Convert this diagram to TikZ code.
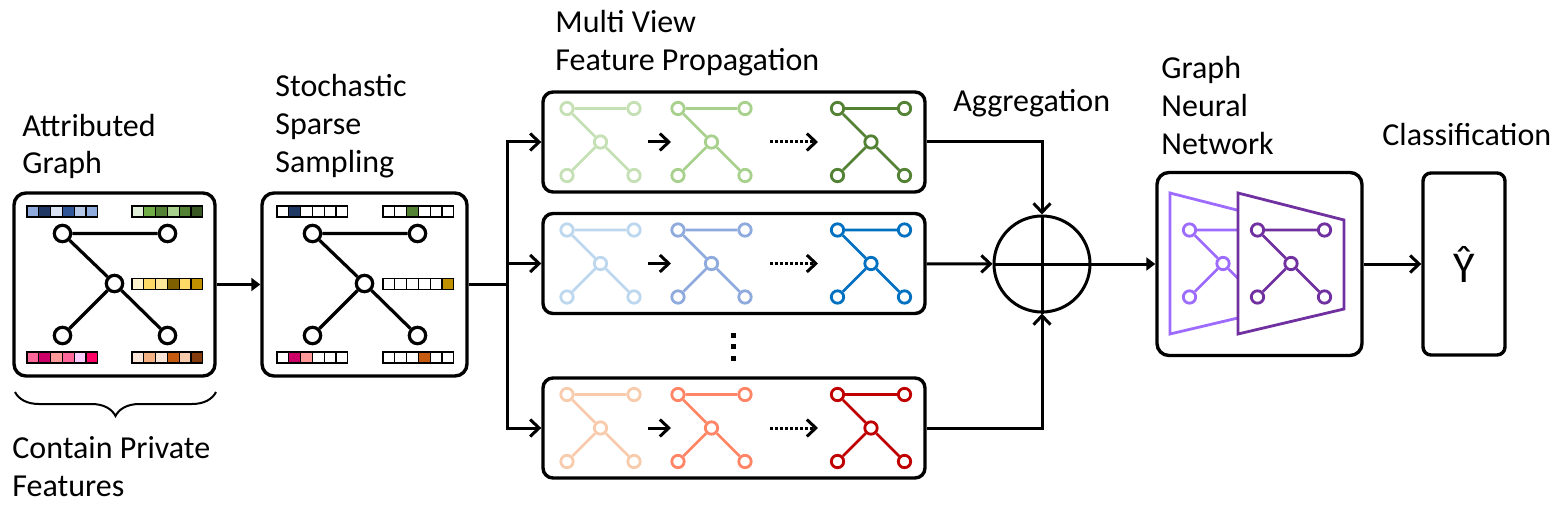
\documentclass[tikz,border=0pt]{standalone}
\usepackage{fontspec}
\setmainfont{Carlito}
\usetikzlibrary{arrows.meta}
\usetikzlibrary{decorations.pathreplacing}
%%%%%%% feature colours
\definecolor{blueA}{HTML}{8FAADC}
\definecolor{blueB}{HTML}{203864}
\definecolor{blueC}{HTML}{DAE3F3}
\definecolor{blueD}{HTML}{2F5597}
\definecolor{blueE}{HTML}{B4C7E7}
\definecolor{greenA}{HTML}{E2F0D9}
\definecolor{greenB}{HTML}{70AD47}
\definecolor{greenC}{HTML}{548235}
\definecolor{greenD}{HTML}{A9D18E}
\definecolor{greenE}{HTML}{385723}
\definecolor{greenF}{HTML}{C5E0B4}
\definecolor{goldA}{HTML}{FFF2CC}
\definecolor{goldB}{HTML}{FFD966}
\definecolor{goldC}{HTML}{FFE699}
\definecolor{goldD}{HTML}{7F6000}
\definecolor{goldE}{HTML}{BF9000}
\definecolor{pinkA}{HTML}{FF6699}
\definecolor{pinkB}{HTML}{CC0066}
\definecolor{pinkC}{HTML}{FF9999}
\definecolor{pinkD}{HTML}{FFCCFF}
\definecolor{pinkE}{HTML}{FF0066}
\definecolor{peachA}{HTML}{FBE5D6}
\definecolor{peachB}{HTML}{F4B183}
\definecolor{peachC}{HTML}{C55A11}
\definecolor{peachD}{HTML}{F8CBAD}
\definecolor{peachE}{HTML}{843C0C}
%%%%%%% view colours
\definecolor{skyA}{HTML}{BDD7EE}
\definecolor{skyB}{HTML}{8FAADC}
\definecolor{skyC}{HTML}{0070C0}
\definecolor{redA}{HTML}{F8CBAD}
\definecolor{redB}{HTML}{FF8566}
\definecolor{redC}{HTML}{C00000}
\definecolor{lilac}{HTML}{9E6BFF}
\definecolor{plum}{HTML}{7030A0}
\newcommand{\FeatBar}[3]{% left, top, colours of the six cells
\foreach \c [count=\i from 0] in {#3} {
  \draw[cell, fill=\c] ({#1+\i*11.8},#2) rectangle ++(11.8,11);
}
}
\newcommand{\BigGraph}[3]{% name, centre x, centre y
\node[bignode] (#1tl) at (#2-52,#3-51) {};
\node[bignode] (#1tr) at (#2+53,#3-51) {};
\node[bignode] (#1c) at (#2,#3-1) {};
\node[bignode] (#1bl) at (#2-52,#3+51) {};
\node[bignode] (#1br) at (#2+53,#3+51) {};
\draw[bigedge] (#1tl) -- (#1tr) (#1tl) -- (#1c) (#1c) -- (#1bl) (#1c) -- (#1br);
}
\newcommand{\SmallGraph}[4]{% name, centre x, centre y, colour
\node[smallnode, draw=#4] (#1tl) at (#2-33.5,#3-33.5) {};
\node[smallnode, draw=#4] (#1tr) at (#2+33.5,#3-33.5) {};
\node[smallnode, draw=#4] (#1c) at (#2,#3) {};
\node[smallnode, draw=#4] (#1bl) at (#2-33.5,#3+33.5) {};
\node[smallnode, draw=#4] (#1br) at (#2+33.5,#3+33.5) {};
\draw[smalledge, #4] (#1tl) -- (#1tr) (#1tl) -- (#1c) (#1c) -- (#1bl) (#1c) -- (#1br);
}
\newcommand{\ViewBox}[5]{% name, centre y, light, middle, dark colour
\node[panel, rounded corners=5pt, minimum width=191pt, minimum height=50pt] (#1) at (734,#2) {};
\SmallGraph{#1a}{600.5}{#2}{#3}
\SmallGraph{#1b}{711.5}{#2}{#4}
\SmallGraph{#1c}{871}{#2}{#5}
\coordinate (#1s1) at (648,#2);
\coordinate (#1s2) at (671,#2);
\coordinate (#1d1) at (770,#2);
\coordinate (#1d2) at (818,#2);
\draw[arr] (#1s1) -- (#1s2);
\draw[arr, dotarr] (#1d1) -- (#1d2);
}

\begin{document}
\begin{tikzpicture}[x=0.5pt, y=-0.5pt,
font=\fontsize{16}{19}\selectfont,
panel/.style={draw, line width=1.7pt, rounded corners=6pt, inner sep=0},
cell/.style={draw, line width=0.6pt},
bignode/.style={circle, draw, fill=white, line width=1.6pt, minimum size=8.2pt, inner sep=0},
bigedge/.style={line width=1.6pt},
smallnode/.style={circle, fill=white, line width=1.4pt, minimum size=6.2pt, inner sep=0},
smalledge/.style={line width=1.4pt},
wire/.style={line width=1.5pt},
arr/.style={-{Straight Barb[length=4.5pt,width=8.5pt]}, line width=1.5pt},
tri/.style={-{Triangle[length=4.5pt,width=6.5pt]}, line width=1.5pt},
dotarr/.style={dash pattern=on 1.5pt off 1pt},
trap/.style={line width=1.4pt, line join=miter},
heading/.style={anchor=base west, align=left, inner sep=0}]
\useasboundingbox (0,0) rectangle (1558,508);
%%%%%%%%%%%%%%%%%%%%%%% TITLES (base = last line) %%%%%%%%%%%%%%%%%%%%%%%
\node[heading] (tattr) at (22,174) {Attributed\\Graph};
\node[heading] (tsamp) at (275,172) {Stochastic\\Sparse\\Sampling};
\node[heading] (tmv) at (555,71) {Multi View\\Feature Propagation};
\node[heading] (tagg) at (953,112) {Aggregation};
\node[heading] (tgnn) at (1161,155) {Graph\\Neural\\Network};
\node[heading] (tcls) at (1382,146) {Classification};
\node[heading] (tpriv) at (12,496) {Contain Private\\Features};
%%%%%%%%%%%%%%%%%%%%%%% ATTRIBUTED GRAPH %%%%%%%%%%%%%%%%%%%%%%%
\node[panel, minimum width=100.5pt, minimum height=91.5pt] (attr) at (114.5,284.5) {};
\FeatBar{27}{206}{blueA,blueB,blueC,blueD,blueE,blueA}
\FeatBar{132}{206}{greenA,greenB,greenC,greenD,greenC,greenE}
\FeatBar{132}{278.5}{goldA,goldB,goldC,goldD,goldB,goldE}
\FeatBar{27}{352}{pinkA,pinkB,pinkC,pinkA,pinkD,pinkE}
\FeatBar{132}{352}{peachA,peachB,peachA,peachC,peachD,peachE}
\BigGraph{ag}{114.5}{284.5}
\draw[decorate, decoration={brace, mirror, amplitude=12pt}, line width=1pt] (15,392) -- (216,392);
%%%%%%%%%%%%%%%%%%%%%%% SPARSE SAMPLING %%%%%%%%%%%%%%%%%%%%%%%
\node[panel, minimum width=102.5pt, minimum height=91.5pt] (samp) at (364.5,284.5) {};
\FeatBar{277}{206}{white,blueB,white,white,white,white}
\FeatBar{383}{206}{white,white,greenC,white,white,white}
\FeatBar{383}{278.5}{white,white,white,white,white,goldE}
\FeatBar{277}{352}{white,pinkB,pinkC,white,white,white}
\FeatBar{383}{352}{white,white,white,peachC,white,white}
\BigGraph{sg}{364.5}{284.5}
%%%%%%%%%%%%%%%%%%%%%%% MULTI VIEW %%%%%%%%%%%%%%%%%%%%%%%
\ViewBox{mva}{142}{greenF}{greenD}{greenC}
\ViewBox{mvb}{263.5}{skyA}{skyB}{skyC}
\ViewBox{mvc}{428}{redA}{redB}{redC}
\foreach \y in {335,346.5,358} \fill (730.5,\y-2.5) rectangle ++(5,5);
%%%%%%%%%%%%%%%%%%%%%%% AGGREGATION %%%%%%%%%%%%%%%%%%%%%%%
\node[circle, draw, line width=1.5pt, minimum size=48pt, inner sep=0] (agg) at (1042,264) {};
\draw[wire] (agg.north) -- (agg.south) (agg.west) -- (agg.east);
%%%%%%%%%%%%%%%%%%%%%%% GNN %%%%%%%%%%%%%%%%%%%%%%%
\node[panel, minimum width=102.5pt, minimum height=91.5pt] (gnn) at (1259.5,264) {};
\draw[trap, lilac] (1170,193) -- (1276,220) -- (1276,309) -- (1170,334) -- cycle;
\SmallGraph{gl}{1223}{263.5}{lilac}
\draw[trap, plum, fill=white] (1238,193) -- (1344,220) -- (1344,309) -- (1238,334) -- cycle;
\SmallGraph{gd}{1291}{263.5}{plum}
%%%%%%%%%%%%%%%%%%%%%%% OUTPUT %%%%%%%%%%%%%%%%%%%%%%%
\node[panel, rounded corners=4pt, minimum width=41pt, minimum height=91pt] (cls) at (1464,264) {\fontsize{22}{24}\selectfont\^{Y}};
%%%%%%%%%%%%%%%%%%%%%%% CONNECTORS %%%%%%%%%%%%%%%%%%%%%%%
\coordinate (fork) at (507,284.5);
\draw[tri] (attr) -- (samp);
\draw[wire] (samp) -- (fork);
\draw[arr] (fork) |- (mva);
\draw[arr] (fork) |- (mvb);
\draw[arr] (fork) |- (mvc);
\draw[arr] (mva) -| (agg);
\draw[arr] (mvb) -- (agg);
\draw[arr] (mvc) -| (agg);
\draw[tri] (agg) -- (gnn);
\draw[arr] (gnn) -- (cls);
\end{tikzpicture}
\end{document}
